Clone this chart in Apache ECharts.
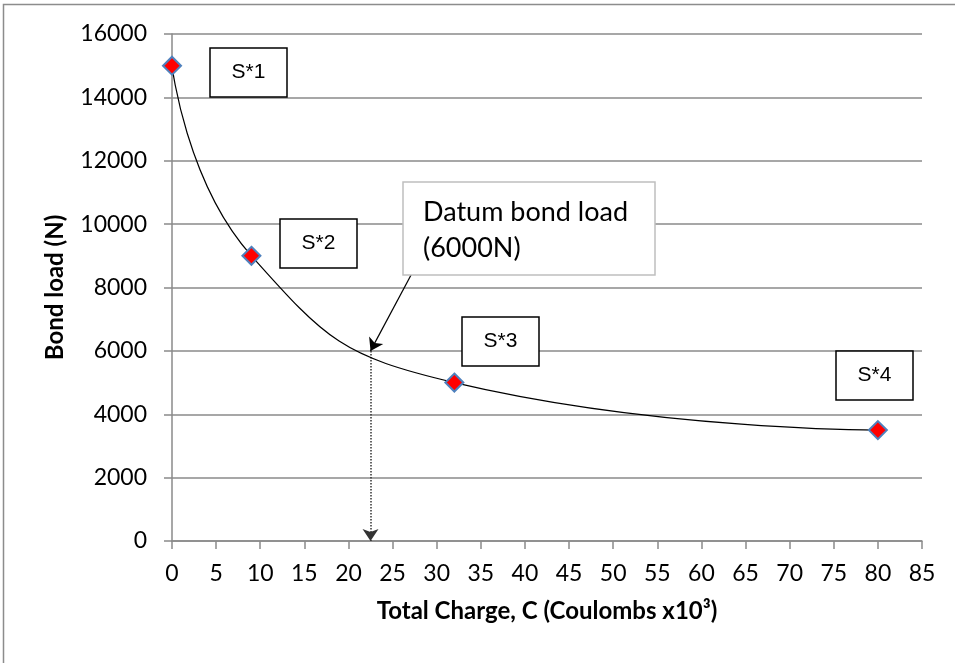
<!DOCTYPE html>
<html>
<head>
<meta charset="utf-8">
<script src="https://cdn.jsdelivr.net/npm/echarts@6/dist/echarts.min.js"></script>
<style>
  html, body { margin: 0; padding: 0; background: #fff; }
  #chart { width: 955px; height: 663px; }
</style>
</head>
<body>
<div id="chart"></div>
<script>
// data
var charge = [0, 9, 32, 80];            // total charge, C x10^3
var bondLoad = [15000, 9000, 5000, 3500]; // bond load, N
var sampleNames = ['S*1', 'S*2', 'S*3', 'S*4'];
var datum = [22.5, 6000];                // datum bond load point
var datumArrowFrom = [28, 8870];         // where the note arrow starts

var pts = [];
for (var i = 0; i < charge.length; i++) pts.push([charge[i], bondLoad[i]]);

var font = 'Lato, "Open Sans", sans-serif';

var chart = echarts.init(document.getElementById('chart'));

// label boxes S*1..S*4 (pixel layout of the notes)
var boxes = [
  { x: 210, y: 48 },
  { x: 280, y: 219 },
  { x: 462, y: 317 },
  { x: 836, y: 351 }
];
var graphics = [
  { type: 'rect', silent: true, shape: { x: 3.5, y: 4.5, width: 1200, height: 1200 },
    style: { fill: 'none', stroke: '#8c8c8c', lineWidth: 1.5 } }
];
boxes.forEach(function (b, i) {
  graphics.push({
    type: 'rect', z: 10, shape: { x: b.x, y: b.y, width: 77, height: 49 },
    style: { fill: '#fff', stroke: '#000', lineWidth: 1.5 }
  });
  graphics.push({
    type: 'text', z: 11, x: b.x + 38.5, y: b.y + 24.5,
    style: { text: sampleNames[i], fill: '#000', font: '21px "Liberation Sans", Arial, sans-serif',
      textAlign: 'center', textVerticalAlign: 'middle' }
  });
});
graphics.push({
  type: 'rect', z: 10, shape: { x: 403, y: 182, width: 252, height: 93 },
  style: { fill: '#fff', stroke: '#bfbfbf', lineWidth: 1.5 }
});
graphics.push({
  type: 'text', z: 11, x: 423, y: 212,
  style: { text: 'Datum bond load', fill: '#000', font: '27px ' + font, textVerticalAlign: 'middle' }
});
graphics.push({
  type: 'text', z: 11, x: 423, y: 248,
  style: { text: '(6000N)', fill: '#000', font: '27px ' + font, textVerticalAlign: 'middle' }
});

chart.setOption({
  animation: false,
  grid: { left: 172, right: 33, top: 34, bottom: 122 },
  xAxis: {
    type: 'value', min: 0, max: 85, interval: 5,
    name: 'Total Charge, C (Coulombs x10³)',
    nameLocation: 'middle', nameGap: 58,
    nameTextStyle: { fontFamily: font, fontWeight: 'bold', fontSize: 24, color: '#000' },
    axisLine: { lineStyle: { color: '#8a8a8a', width: 1.5 } },
    axisTick: { length: 8, lineStyle: { color: '#8a8a8a', width: 1.5 } },
    axisLabel: { fontFamily: font, fontSize: 23, color: '#000', margin: 21 },
    splitLine: { show: false }
  },
  yAxis: {
    type: 'value', min: 0, max: 16000, interval: 2000,
    name: 'Bond load (N)',
    nameLocation: 'middle', nameGap: 105,
    nameTextStyle: { fontFamily: font, fontWeight: 'bold', fontSize: 24, color: '#000' },
    axisLine: { show: true, lineStyle: { color: '#8a8a8a', width: 1.5 } },
    axisTick: { show: true, length: 8, lineStyle: { color: '#8a8a8a', width: 1.5 } },
    axisLabel: { fontFamily: font, fontSize: 23, color: '#000', margin: 25,
      formatter: function (v) { return String(v); } },
    splitLine: { lineStyle: { color: '#8a8a8a', width: 1.5 } }
  },
  series: [{
    type: 'line',
    data: pts,
    smooth: 0.5,
    symbol: 'diamond',
    symbolSize: 18,
    z: 5,
    itemStyle: { color: '#ff0000', borderColor: '#4f81bd', borderWidth: 2 },
    lineStyle: { color: '#000', width: 1.2 },
    markLine: {
      silent: true,
      animation: false,
      label: { show: false },
      symbol: ['none', 'arrow'],
      symbolSize: 12,
      data: [
        [{ coord: datum, lineStyle: { type: 'dotted', color: '#333', width: 1.5 } },
         { coord: [datum[0], 0] }],
        [{ coord: datumArrowFrom, lineStyle: { type: 'solid', color: '#000', width: 1.2 } },
         { coord: datum }]
      ],
      itemStyle: { color: '#000' }
    }
  }],
  graphic: graphics
});
</script>
</body>
</html>
